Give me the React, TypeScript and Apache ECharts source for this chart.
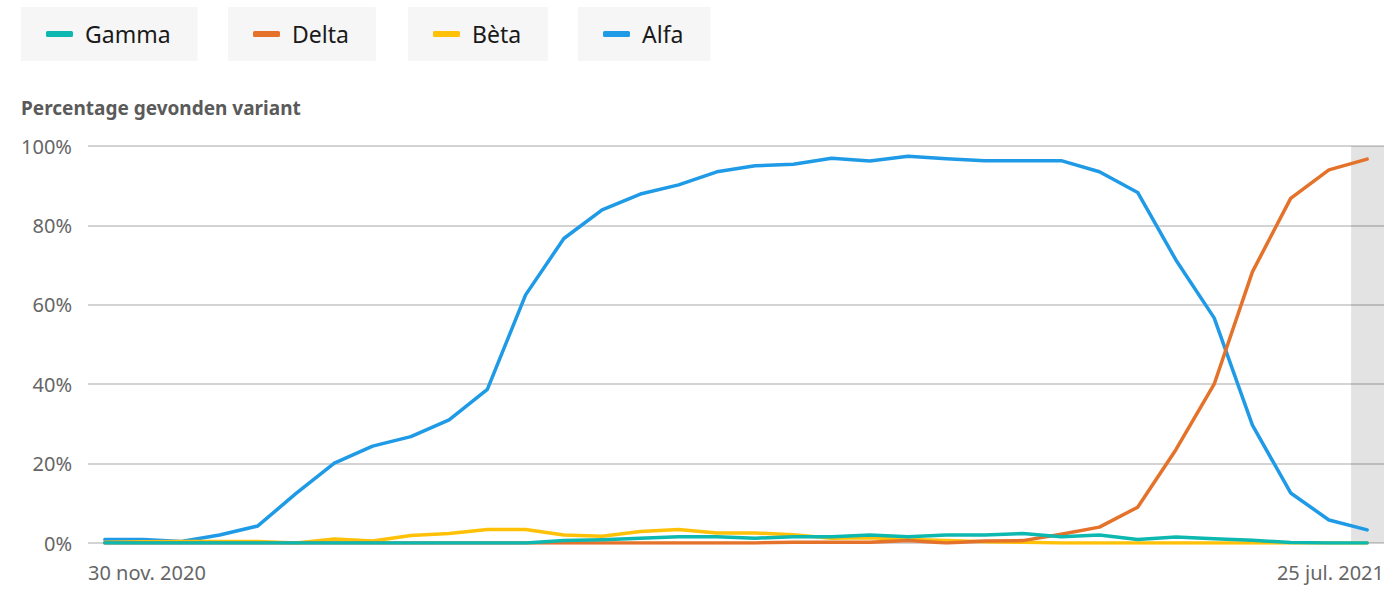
import React, { useEffect, useRef } from "react";
import * as echarts from "echarts";

const xTickLabels = ["30 nov. 2020", "25 jul. 2021"];
const seriesNames = ["Gamma", "Delta", "Bèta", "Alfa"];

// weekly values (%), 34 weeks
const alfa = [0.9, 0.9, 0.4, 2.0, 4.3, 12.5, 20.1, 24.4, 26.8, 31.0, 38.7, 62.5, 76.7, 83.9, 87.9, 90.2, 93.5, 95.0, 95.4, 96.9, 96.2, 97.4, 96.8, 96.3, 96.3, 96.3, 93.5, 88.3, 71.3, 56.7, 29.7, 12.6, 5.8, 3.3];
const delta = [0, 0, 0, 0, 0, 0, 0, 0, 0, 0, 0, 0, 0, 0, 0, 0, 0, 0, 0.2, 0.2, 0.2, 0.6, 0, 0.5, 0.6, 2.2, 4.0, 9.0, 23.5, 40.0, 68.3, 86.8, 94.0, 96.7];
const beta = [0.2, 0.3, 0.4, 0.4, 0.4, 0, 1.0, 0.5, 1.9, 2.4, 3.4, 3.4, 2.0, 1.7, 2.9, 3.4, 2.5, 2.5, 2.1, 1.2, 1.3, 0.9, 0.6, 0.3, 0.2, 0, 0, 0, 0, 0, 0, 0, 0, 0];
const gamma = [0, 0, 0, 0, 0, 0, 0, 0, 0, 0, 0, 0, 0.6, 0.8, 1.2, 1.6, 1.6, 1.2, 1.6, 1.6, 2.0, 1.6, 2.0, 2.0, 2.4, 1.6, 2.0, 0.9, 1.5, 1.1, 0.7, 0.1, 0, 0];

const colors: Record<string, string> = {
  Gamma: "#0db8b0",
  Delta: "#e5722a",
  "Bèta": "#ffc107",
  Alfa: "#1f9ae6",
};

const XMIN = -0.44;
const XMAX = 33.44;
const FONT = "Noto Sans";

export default function App() {
  const ref = useRef<HTMLDivElement>(null);
  useEffect(() => {
    document.body.style.margin = "0";
    const chart = echarts.init(ref.current!, null, { renderer: "svg" });
    const toPts = (arr: number[]) => arr.map((v, i) => [i, v]);
    const dataMap: Record<string, number[]> = { Gamma: gamma, Delta: delta, "Bèta": beta, Alfa: alfa };
    const drawOrder = ["Alfa", "Bèta", "Delta", "Gamma"];
    const legendLefts = [21, 228, 408, 578];
    const option: any = {
      animation: false,
      textStyle: { fontFamily: FONT },
      title: {
        text: "Percentage gevonden variant",
        left: 21,
        top: 98,
        padding: 0,
        textStyle: { fontFamily: FONT, fontSize: 19, fontWeight: "bold", color: "#5a5a5a" },
      },
      legend: seriesNames.map((n, k) => ({
        data: [n],
        left: legendLefts[k],
        top: 7,
        icon: "roundRect",
        itemWidth: 27,
        itemHeight: 6,
        backgroundColor: "#f6f6f6",
        padding: [15, 27, 15, 25],
        selectedMode: false,
        textStyle: { fontFamily: FONT, fontSize: 23, lineHeight: 24, color: "#1a1a1a", padding: [0, 0, 0, 7] },
      })),
      grid: { left: 88, right: 16, top: 146, bottom: 55, containLabel: false },
      xAxis: {
        type: "value",
        min: XMIN,
        max: XMAX,
        axisLine: { show: false },
        axisTick: { show: false },
        splitLine: { show: false },
        axisLabel: {
          customValues: [XMIN, XMAX],
          formatter: (v: number) => (v < 0 ? xTickLabels[0] : xTickLabels[1]),
          alignMinLabel: "left",
          alignMaxLabel: "right",
          fontSize: 20,
          color: "#666666",
          margin: 19,
          fontFamily: FONT,
        },
      },
      yAxis: {
        type: "value",
        min: 0,
        max: 100,
        interval: 20,
        axisLine: { show: false },
        axisTick: { show: false },
        axisLabel: { formatter: "{value}%", fontSize: 20, color: "#666666", margin: 16, fontFamily: FONT },
        splitLine: { lineStyle: { color: "#c4c4c4", width: 1.5 } },
      },
      series: drawOrder.map((n, k) => ({
        name: n,
        type: "line",
        data: toPts(dataMap[n]),
        symbol: "none",
        lineStyle: { width: 3.5, color: colors[n], cap: "round", join: "round" },
        itemStyle: { color: colors[n] },
        z: 3 + k,
        markArea:
          k === 0
            ? {
                silent: true,
                itemStyle: { color: "rgba(0,0,0,0.11)" },
                data: [[{ xAxis: 32.58 }, { xAxis: XMAX }]],
              }
            : undefined,
      })),
    };
    chart.setOption(option);
    return () => chart.dispose();
  }, []);
  return <div ref={ref} style={{ position: "absolute", left: 0, top: 0, width: 1400, height: 598 }} />;
}
